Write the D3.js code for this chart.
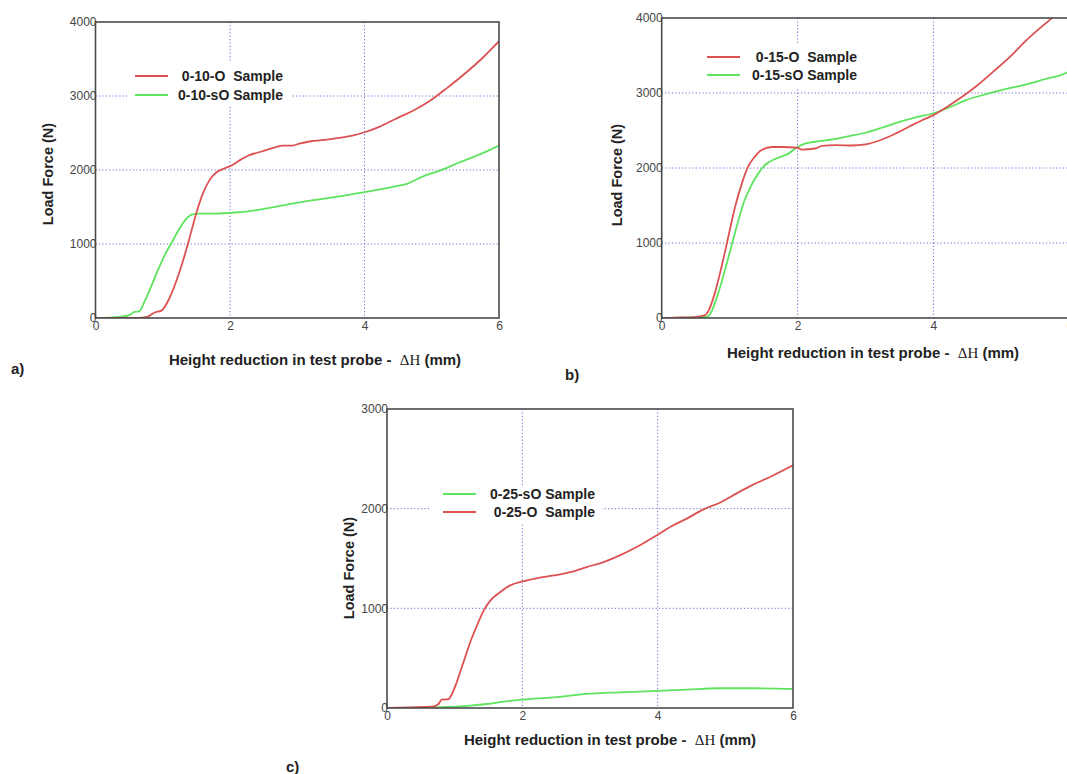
<!DOCTYPE html>
<html>
<head>
<meta charset="utf-8">
<script src="https://cdn.jsdelivr.net/npm/d3@7"></script>
<style>
  html, body { margin: 0; padding: 0; background: #fff; }
  svg { display: block; }
  text { font-family: "Liberation Sans", Arial, sans-serif; }
</style>
</head>
<body>
<svg id="chart" width="1067" height="774"></svg>
<script>
// ---------- DATA ----------
const xTicks = [0, 2, 4, 6];
const yTicksAB = [0, 1000, 2000, 3000, 4000];
const yTicksC = [0, 1000, 2000, 3000];

// Panel a
const a_O_x  = [0, 0.62, 0.78, 0.88, 0.98, 1.09, 1.19, 1.29, 1.39, 1.50, 1.60, 1.70, 1.80, 1.90, 2.0, 2.16, 2.26, 2.47, 2.67, 2.78, 2.93, 3.03, 3.18, 3.44, 3.70, 3.85, 4.0, 4.21, 4.46, 4.72, 4.98, 5.23, 5.49, 5.75, 6.0];
const a_O_y  = [0, 0, 20, 75, 100, 250, 470, 740, 1055, 1420, 1690, 1870, 1970, 2015, 2050, 2140, 2190, 2250, 2305, 2330, 2330, 2355, 2385, 2410, 2445, 2470, 2510, 2580, 2690, 2800, 2940, 3110, 3300, 3510, 3740];
const a_sO_x = [0, 0.37, 0.52, 0.57, 0.65, 0.73, 0.83, 0.93, 1.03, 1.14, 1.24, 1.34, 1.44, 1.55, 1.75, 2.0, 2.26, 2.57, 2.93, 3.29, 3.70, 4.0, 4.21, 4.46, 4.62, 4.87, 5.13, 5.39, 5.64, 5.85, 6.0];
const a_sO_y = [0, 15, 45, 80, 90, 225, 430, 650, 850, 1030, 1195, 1330, 1400, 1410, 1410, 1420, 1440, 1485, 1545, 1600, 1655, 1700, 1735, 1780, 1810, 1915, 1995, 2095, 2185, 2265, 2330];

// Panel b
const b_O_x  = [0, 0.19, 0.48, 0.63, 0.68, 0.78, 0.88, 0.98, 1.08, 1.18, 1.27, 1.37, 1.47, 1.62, 1.77, 2.0, 2.06, 2.26, 2.36, 2.56, 2.80, 3.0, 3.15, 3.40, 3.64, 3.84, 4.0, 4.14, 4.39, 4.63, 4.88, 5.13, 5.37, 5.62, 5.74, 5.85];
const b_O_y  = [0, 5, 13, 35, 80, 325, 680, 1080, 1480, 1795, 2015, 2150, 2240, 2280, 2280, 2270, 2245, 2260, 2295, 2305, 2300, 2315, 2350, 2440, 2550, 2640, 2705, 2780, 2930, 3090, 3285, 3485, 3705, 3905, 3995, 4080];
const b_sO_x = [0, 0.58, 0.68, 0.73, 0.83, 0.93, 1.03, 1.13, 1.22, 1.32, 1.42, 1.52, 1.67, 1.87, 2.0, 2.11, 2.26, 2.51, 2.76, 3.0, 3.25, 3.50, 3.74, 4.0, 4.24, 4.48, 4.78, 5.03, 5.32, 5.62, 5.96, 6.0];
const b_sO_y = [0, 13, 22, 80, 325, 635, 970, 1305, 1570, 1770, 1925, 2040, 2120, 2195, 2280, 2325, 2350, 2380, 2425, 2470, 2540, 2615, 2675, 2730, 2810, 2905, 2985, 3045, 3105, 3180, 3270, 3290];

// Panel c
const c_O_x  = [0, 0.34, 0.69, 0.76, 0.81, 0.91, 0.96, 1.03, 1.13, 1.23, 1.33, 1.43, 1.53, 1.67, 1.82, 2.0, 2.22, 2.46, 2.71, 2.95, 3.20, 3.44, 3.69, 4.0, 4.23, 4.43, 4.67, 4.92, 5.16, 5.41, 5.66, 6.0];
const c_O_y  = [0, 7, 17, 40, 85, 90, 140, 258, 459, 660, 828, 980, 1080, 1162, 1230, 1270, 1303, 1330, 1363, 1414, 1464, 1531, 1615, 1739, 1833, 1900, 1990, 2060, 2151, 2241, 2318, 2435];
const c_sO_x = [0, 0.74, 1.23, 1.48, 1.72, 2.0, 2.46, 2.95, 3.44, 4.0, 4.43, 4.92, 5.41, 6.0];
const c_sO_y = [0, 7, 23, 40, 64, 84, 107, 141, 157, 171, 184, 198, 198, 191];

const legendA = ["0-10-O  Sample", "0-10-sO Sample"];
const legendB = ["0-15-O  Sample", "0-15-sO Sample"];
const legendC = ["0-25-sO Sample", "0-25-O  Sample"];

// ---------- STYLE ----------
const RED = "#dc5151";
const GREEN = "#5ee35e";
const GRID = "#6f6fd6";
const FRAME = "#4a4a4a";

const svg = d3.select("#chart");
const zip = (xs, ys) => xs.map((x, i) => [x, ys[i]]);

function panel(cfg) {
  const x = d3.scaleLinear().domain([0, 6]).range([cfg.left, cfg.right]);
  const y = d3.scaleLinear().domain([0, cfg.ymax]).range([cfg.bottom, cfg.top]);
  const g = svg.append("g");
  const clipId = "clip" + cfg.id;
  svg.append("defs").append("clipPath").attr("id", clipId)
    .append("rect").attr("x", cfg.left).attr("y", cfg.top)
    .attr("width", cfg.right - cfg.left).attr("height", cfg.bottom - cfg.top);

  // grid
  g.append("g").selectAll("line.vg").data(xTicks.filter(t => t > 0 && t < 6)).join("line")
    .attr("x1", d => x(d)).attr("x2", d => x(d))
    .attr("y1", cfg.top).attr("y2", cfg.bottom)
    .attr("stroke", GRID).attr("stroke-width", 1).attr("stroke-dasharray", "1.2,2.2");
  g.append("g").selectAll("line.hg").data(cfg.yTicks.filter(t => t > 0 && t < cfg.ymax)).join("line")
    .attr("x1", cfg.left).attr("x2", cfg.right)
    .attr("y1", d => y(d)).attr("y2", d => y(d))
    .attr("stroke", GRID).attr("stroke-width", 1).attr("stroke-dasharray", "1.2,2.2");

  // legend background (white) covering grid
  g.append("rect").attr("x", cfg.legBox[0]).attr("y", cfg.legBox[1])
    .attr("width", cfg.legBox[2]).attr("height", cfg.legBox[3]).attr("fill", "#fff");

  // lines
  const line = d3.line().x(d => x(d[0])).y(d => y(d[1])).curve(d3.curveMonotoneX);
  const lg = g.append("g").attr("clip-path", `url(#${clipId})`);
  cfg.series.forEach(s => {
    lg.append("path").datum(s.data).attr("d", line)
      .attr("fill", "none").attr("stroke", s.color).attr("stroke-width", 1.8)
      .attr("stroke-linejoin", "round");
  });

  // frame
  g.append("rect").attr("x", cfg.left).attr("y", cfg.top)
    .attr("width", cfg.right - cfg.left).attr("height", cfg.bottom - cfg.top)
    .attr("fill", "none").attr("stroke", FRAME).attr("stroke-width", 1.6);

  // axes (labels only)
  const xAxis = d3.axisBottom(x).tickValues(xTicks).tickSize(0).tickPadding(3).tickFormat(d3.format("d"));
  const xg = g.append("g").attr("transform", `translate(0,${cfg.bottom})`).call(xAxis);
  xg.select(".domain").remove();
  xg.selectAll("text").attr("font-size", 12).attr("fill", "#444")
    .attr("font-family", "'Liberation Sans', Arial, sans-serif");
  const yAxis = d3.axisLeft(y).tickValues(cfg.yTicks).tickSize(0).tickPadding(0).tickFormat(d3.format("d"));
  const yg = g.append("g").attr("transform", `translate(${cfg.left + 1},0)`).call(yAxis);
  yg.select(".domain").remove();
  yg.selectAll("text").attr("font-size", 12).attr("fill", "#444")
    .attr("font-family", "'Liberation Sans', Arial, sans-serif");

  // legend
  cfg.legend.forEach((L, i) => {
    const ly = cfg.legY[i];
    g.append("line").attr("x1", cfg.legLine[0]).attr("x2", cfg.legLine[1])
      .attr("y1", ly).attr("y2", ly).attr("stroke", L.color).attr("stroke-width", 1.8);
    g.append("text").attr("x", cfg.legTextEnd).attr("y", ly).attr("dy", "0.35em")
      .attr("text-anchor", "end").attr("font-size", 14).attr("font-weight", "bold")
      .attr("fill", "#222").style("white-space", "pre").text(L.name);
  });

  // y title
  g.append("text").attr("transform", `translate(${cfg.yTitle[0]},${cfg.yTitle[1]}) rotate(-90)`)
    .attr("text-anchor", "middle").attr("dy", "0.35em")
    .attr("font-size", 14.5).attr("font-weight", "bold").attr("fill", "#222")
    .text("Load Force (N)");

  // x title
  const xt = g.append("text").attr("x", cfg.xTitle[0]).attr("y", cfg.xTitle[1]).attr("dy", "0.35em")
    .attr("text-anchor", "middle").attr("font-size", 15).attr("font-weight", "bold").attr("fill", "#222")
    .style("white-space", "pre");
  xt.append("tspan").text("Height reduction in test probe -  ");
  xt.append("tspan").attr("font-family", "'Liberation Serif', 'Times New Roman', serif")
    .attr("font-weight", "normal").text("\u0394H");
  xt.append("tspan").text(" (mm)");

  // panel letter
  g.append("text").attr("x", cfg.letter[0]).attr("y", cfg.letter[1]).attr("dy", "0.35em")
    .attr("font-size", 15).attr("font-weight", "bold").attr("fill", "#222").text(cfg.letterText);
}

panel({
  id: "a", left: 95.5, right: 499, top: 22, bottom: 318, ymax: 4000, yTicks: yTicksAB,
  series: [{ data: zip(a_sO_x, a_sO_y), color: GREEN }, { data: zip(a_O_x, a_O_y), color: RED }],
  legBox: [128, 62, 164, 45],
  legend: [{ name: legendA[0], color: RED }, { name: legendA[1], color: GREEN }],
  legY: [76, 95], legLine: [135, 168], legTextEnd: 283,
  yTitle: [48, 174], xTitle: [315, 360], letter: [11, 369], letterText: "a)"
});

panel({
  id: "b", left: 661.7, right: 1069.3, top: 18, bottom: 318, ymax: 4000, yTicks: yTicksAB,
  series: [{ data: zip(b_sO_x, b_sO_y), color: GREEN }, { data: zip(b_O_x, b_O_y), color: RED }],
  legBox: [700, 45, 162, 42],
  legend: [{ name: legendB[0], color: RED }, { name: legendB[1], color: GREEN }],
  legY: [57, 75], legLine: [707, 740], legTextEnd: 857,
  yTitle: [617, 175], xTitle: [873, 353], letter: [565, 375], letterText: "b)"
});

panel({
  id: "c", left: 387, right: 793, top: 409, bottom: 708, ymax: 3000, yTicks: yTicksC,
  series: [{ data: zip(c_sO_x, c_sO_y), color: GREEN }, { data: zip(c_O_x, c_O_y), color: RED }],
  legBox: [430, 485, 172, 38],
  legend: [{ name: legendC[0], color: GREEN }, { name: legendC[1], color: RED }],
  legY: [494, 512], legLine: [443, 476], legTextEnd: 595,
  yTitle: [349, 568], xTitle: [610, 740], letter: [286, 767], letterText: "c)"
});
</script>
</body>
</html>
